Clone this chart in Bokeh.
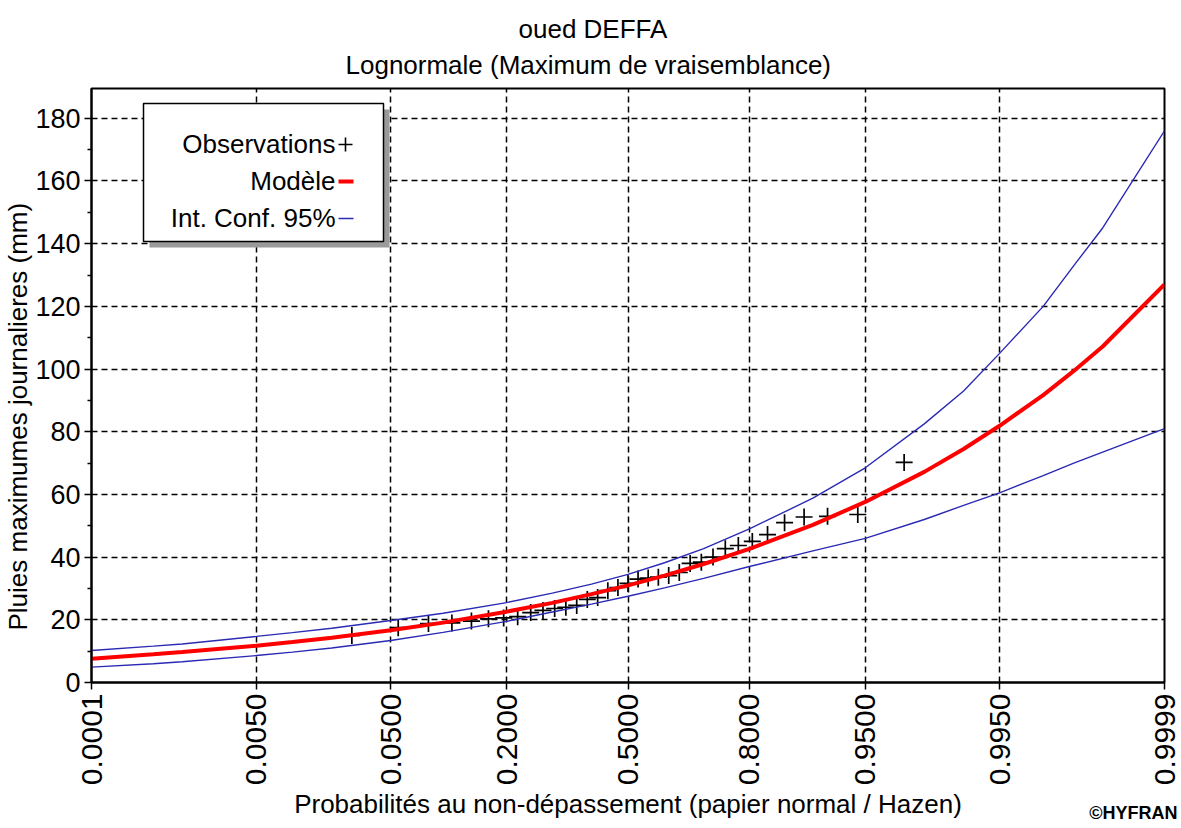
import math
from statistics import NormalDist
from bokeh.plotting import figure
from bokeh.models import Range1d, FixedTicker, Label, BoxAnnotation, ColumnDataSource, Title
from bokeh.embed import file_html
from bokeh.resources import INLINE

# ---------------- data ----------------
title_line1 = "oued DEFFA"
title_line2 = "Lognormale (Maximum de vraisemblance)"
x_label = "Probabilités au non-dépassement (papier normal / Hazen)"
y_label = "Pluies maximumes journalieres (mm)"
credit = "©HYFRAN"
legend_labels = ["Observations", "Modèle", "Int. Conf. 95%"]

tick_probs = [0.0001, 0.005, 0.05, 0.2, 0.5, 0.8, 0.95, 0.995, 0.9999]
tick_labels = ["0.0001", "0.0050", "0.0500", "0.2000", "0.5000",
               "0.8000", "0.9500", "0.9950", "0.9999"]
y_ticks = [0, 20, 40, 60, 80, 100, 120, 140, 160, 180]
y_minor = [10, 30, 50, 70, 90, 110, 130, 150, 170]

obs_prob = [0.0278, 0.0556, 0.0833, 0.1111, 0.1389, 0.1667, 0.1944, 0.2222,
            0.2500, 0.2778, 0.3056, 0.3333, 0.3611, 0.3889, 0.4167, 0.4444,
            0.4722, 0.5000, 0.5278, 0.5556, 0.5833, 0.6111, 0.6389, 0.6667,
            0.6944, 0.7222, 0.7500, 0.7778, 0.8056, 0.8333, 0.8611, 0.8889,
            0.9167, 0.9444, 0.9722]
obs_mm = [15.0, 17.5, 18.8, 19.0, 19.6, 20.3, 20.6, 21.0,
          22.3, 23.0, 23.6, 24.0, 24.6, 26.5, 27.1, 29.3,
          30.3, 31.6, 33.0, 33.3, 33.6, 34.1, 35.1, 38.0,
          38.4, 40.0, 42.7, 43.7, 45.0, 47.2, 51.0, 52.8,
          53.0, 53.6, 70.2]

curve_prob = [0.0001, 0.0005, 0.001, 0.005, 0.01, 0.02, 0.05, 0.1, 0.2, 0.3,
              0.4, 0.5, 0.6, 0.7, 0.8, 0.9, 0.95, 0.98, 0.99, 0.995, 0.998,
              0.999, 0.9995, 0.9999]
model_mm = [7.6, 9.0, 9.7, 11.7, 12.9, 14.3, 16.7, 19.1, 22.6, 25.4,
            28.2, 31.0, 34.1, 37.8, 42.6, 50.3, 57.6, 67.2, 74.5, 81.9,
            91.7, 99.4, 107.2, 127.0]
upper_mm = [10.2, 11.6, 12.3, 14.7, 15.9, 17.3, 19.8, 22.1, 25.5, 28.5,
            31.4, 34.5, 38.2, 42.7, 49.0, 58.8, 68.5, 82.5, 93.0, 105.0,
            120.0, 133.0, 145.0, 176.0]
lower_mm = [4.9, 6.0, 6.6, 8.6, 9.7, 11.0, 13.4, 16.0, 19.5, 22.5,
            25.0, 27.5, 30.2, 33.2, 37.0, 42.0, 46.0, 52.0, 56.5, 60.5,
            66.0, 70.0, 73.5, 81.0]

# normal-probability paper: probabilities -> standard normal quantiles
nd = NormalDist()
def q(ps):
    return [nd.inv_cdf(v) for v in ps]

tick_z = q(tick_probs)
obs_src = ColumnDataSource(dict(z=q(obs_prob), y=obs_mm))
curve_src = ColumnDataSource(dict(z=q(curve_prob), m=model_mm, u=upper_mm, l=lower_mm))

FONT = "Liberation Sans"
BLUE = "#2a2ab4"

p = figure(width=1181, height=826, output_backend="svg", toolbar_location=None,
           x_range=Range1d(tick_z[0], tick_z[-1]), y_range=Range1d(0, 189.5),
           min_border_left=91, min_border_right=17, min_border_top=88,
           min_border_bottom=144, background_fill_color="white",
           border_fill_color="white")

p.outline_line_color = "black"
p.outline_line_width = 2

# axes
for ax in (p.xaxis[0], p.yaxis[0]):
    ax.axis_line_width = 2
    ax.axis_line_color = "black"
    ax.major_tick_line_color = "black"
    ax.major_tick_line_width = 1.5
    ax.major_tick_in = 0
    ax.major_tick_out = 7
    ax.major_label_text_font = FONT
    ax.major_label_text_color = "black"
    ax.major_label_standoff = 4

p.xaxis.ticker = FixedTicker(ticks=tick_z)
p.xaxis.major_label_overrides = {z: t for z, t in zip(tick_z, tick_labels)}
p.xaxis.major_label_orientation = math.pi / 2
p.xaxis.major_label_text_font_size = "30px"
p.xaxis.minor_tick_line_color = None
p.xaxis.axis_label = x_label
p.xaxis.axis_label_text_font = FONT
p.xaxis.axis_label_text_font_size = "26px"
p.xaxis.axis_label_text_font_style = "normal"
p.xaxis.axis_label_text_color = "black"
p.xaxis.axis_label_standoff = 1

p.yaxis.ticker = FixedTicker(ticks=y_ticks, minor_ticks=y_minor)
p.yaxis.major_label_text_font_size = "27px"
p.yaxis.minor_tick_line_color = "black"
p.yaxis.minor_tick_line_width = 1.5
p.yaxis.minor_tick_in = 0
p.yaxis.minor_tick_out = 4

# grid
p.xgrid.ticker = FixedTicker(ticks=tick_z)
p.ygrid.ticker = FixedTicker(ticks=y_ticks)
for g in (p.xgrid[0], p.ygrid[0]):
    g.grid_line_color = "black"
    g.grid_line_dash = "6 4"
    g.grid_line_width = 1.5

# data
p.scatter("z", "y", source=obs_src, marker="cross", size=17,
          line_color="black", line_width=1.7)
p.line("z", "u", source=curve_src, line_color=BLUE, line_width=1.4)
p.line("z", "l", source=curve_src, line_color=BLUE, line_width=1.4)
p.line("z", "m", source=curve_src, line_color="#ff0000", line_width=4)

# titles (outside the frame, in side panels)
def title(text, loc, size, align="left", offset=0, standoff=0, valign="bottom", style="normal"):
    p.add_layout(Title(text=text, align=align, offset=offset, standoff=standoff,
                       vertical_align=valign, text_font=FONT, text_font_size=size,
                       text_font_style=style, text_color="black"), loc)

title(title_line2, "above", "26px", offset=254, standoff=18)
title(title_line1, "above", "26px", offset=427, standoff=-10)
title(y_label, "left", "26px", offset=52, standoff=0)
title(credit, "below", "18px", align="right", offset=-13, standoff=-40, valign="top", style="bold")

# legend box with shadow (screen units relative to the frame's bottom-left)
def box(l, r, t, b, fill, line=None, lw=1.0):
    p.add_layout(BoxAnnotation(left=l, right=r, top=t, bottom=b,
                               left_units="screen", right_units="screen",
                               top_units="screen", bottom_units="screen",
                               fill_color=fill, fill_alpha=1, line_color=line,
                               line_width=lw, line_alpha=1))

box(58, 298, 573, 435, "#9a9a9a")
box(52, 292, 579, 441, "white", line="black", lw=1.5)

def lab(text, x, y):
    p.add_layout(Label(x=x, y=y, x_units="screen", y_units="screen", text=text,
                       text_font=FONT, text_font_size="26px", text_align="right",
                       text_baseline="alphabetic", text_color="black"))

lab(legend_labels[0], 244, 539)
lab(legend_labels[1], 244, 502)
lab(legend_labels[2], 244, 465)

box(247, 261, 538.8, 537.2, "black")
box(253.2, 254.8, 545, 531, "black")
box(247, 262, 503, 499, "#ff0000")
box(247, 262, 464.7, 463.3, BLUE)

open("out.html", "w").write(file_html(p, INLINE))
